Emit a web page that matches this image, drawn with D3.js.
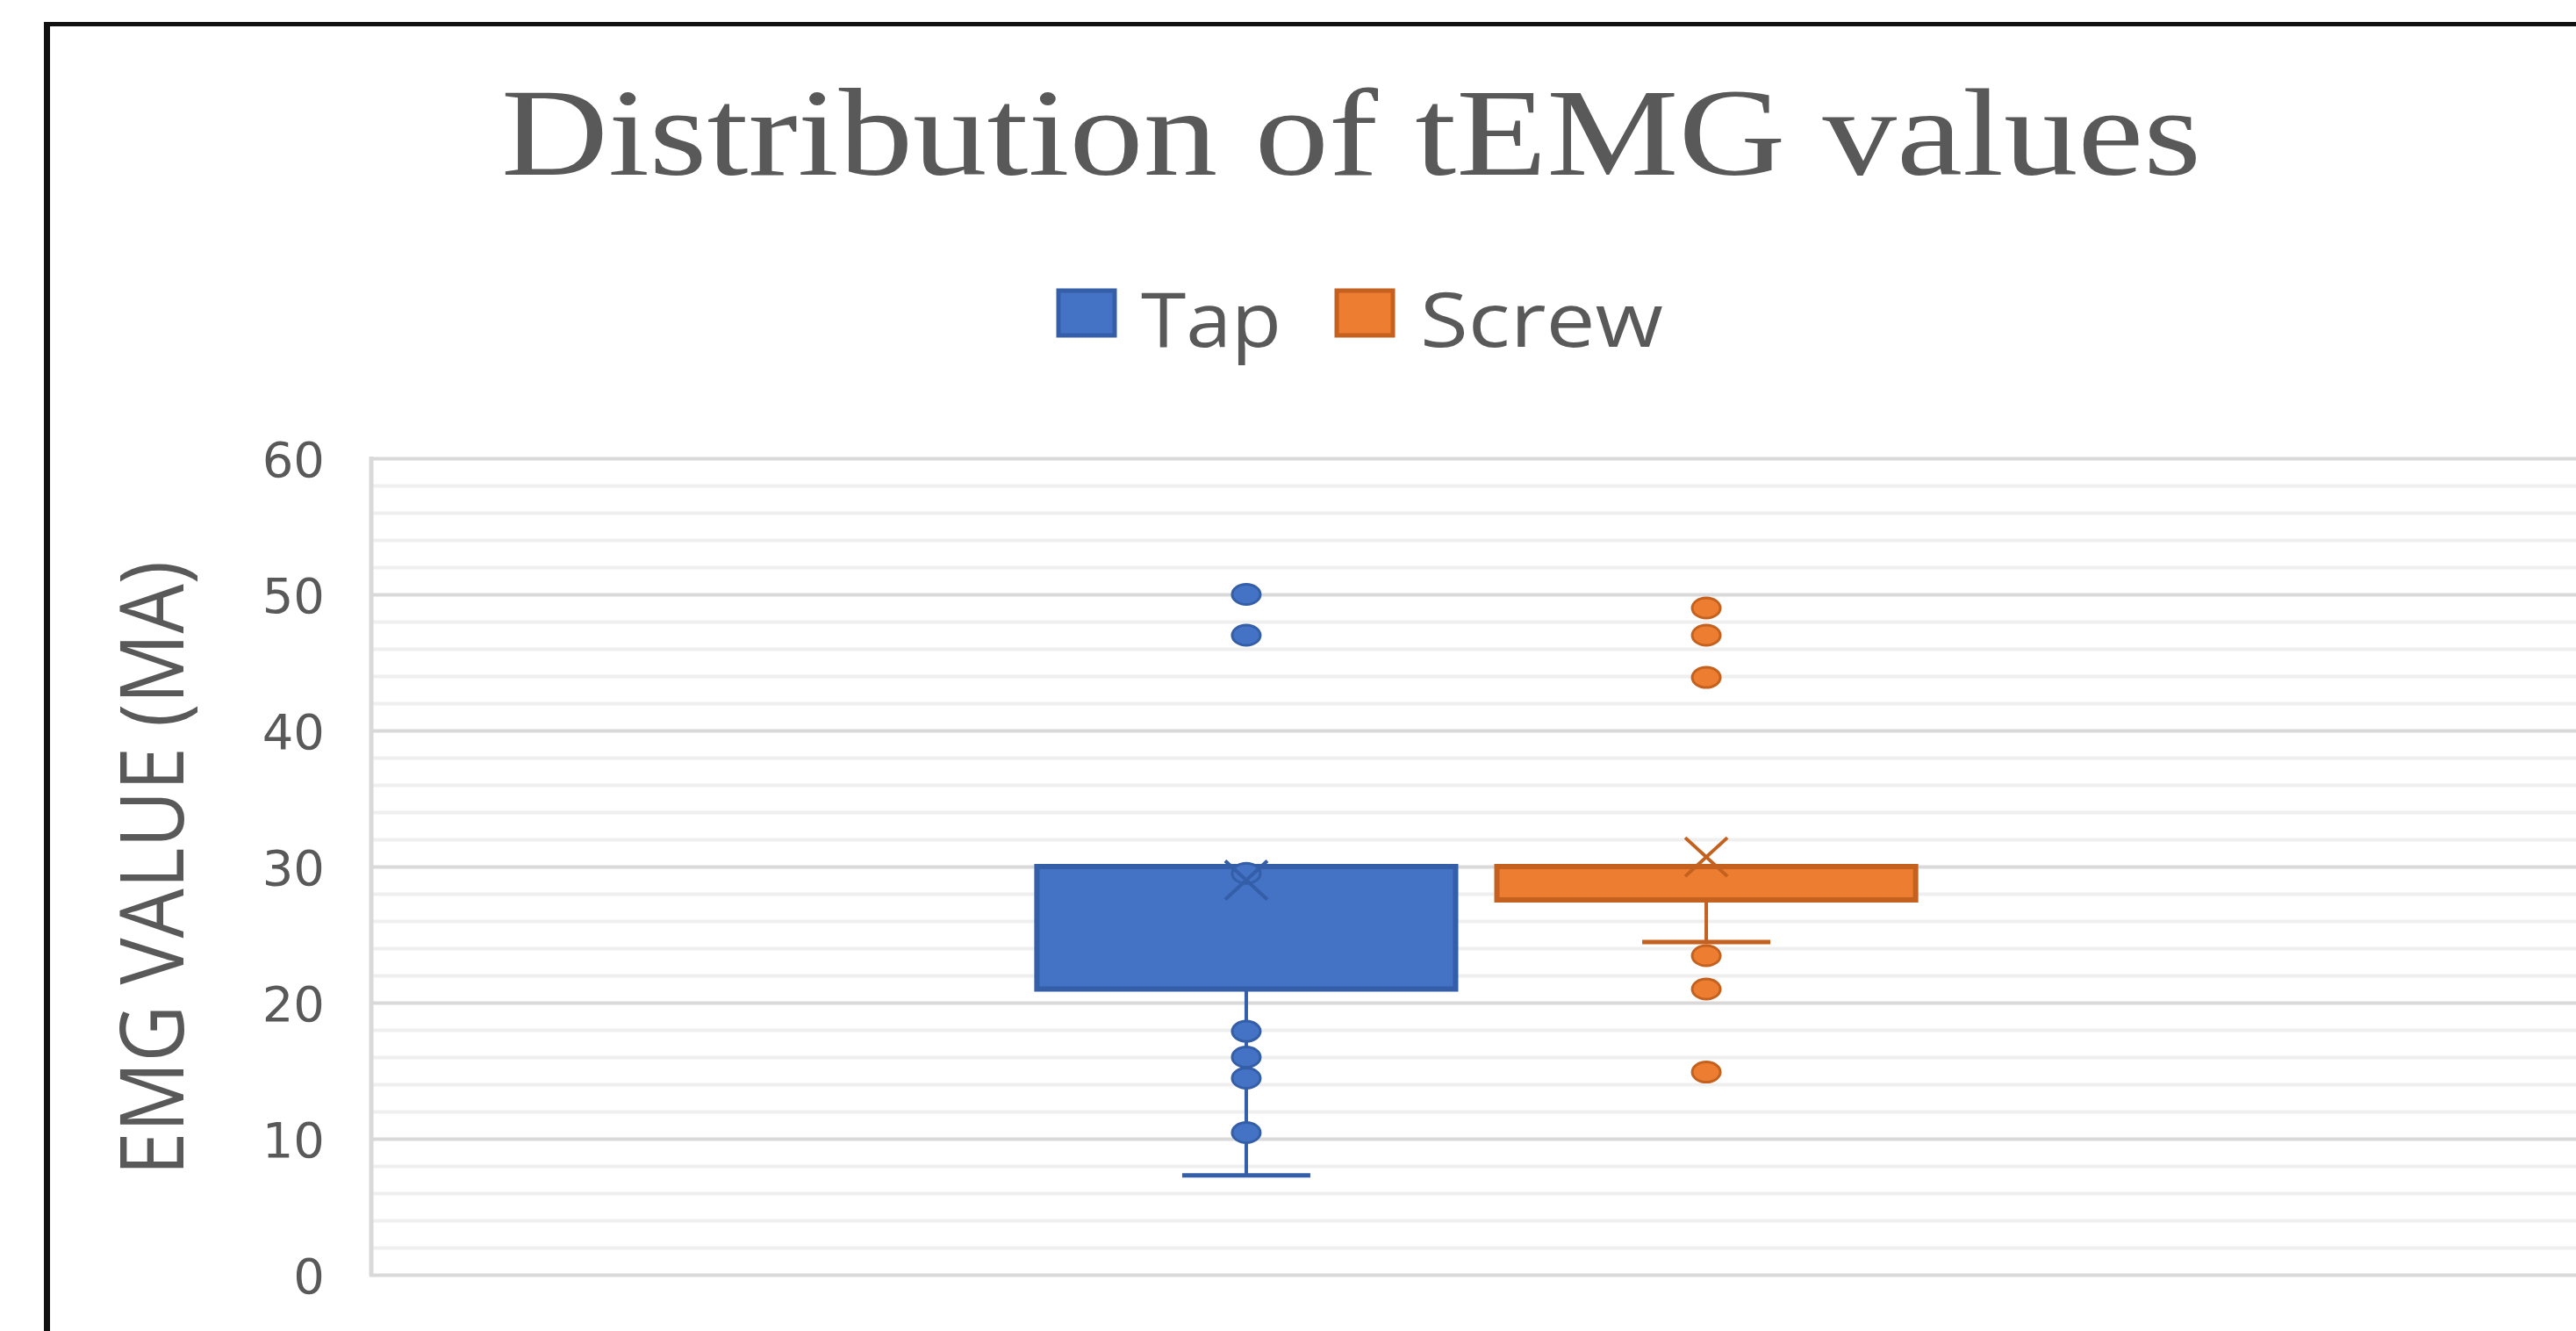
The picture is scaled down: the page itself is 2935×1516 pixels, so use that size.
<!DOCTYPE html>
<html><head><meta charset="utf-8">
<script src="https://cdn.jsdelivr.net/npm/d3@7/dist/d3.min.js"></script>
<style>html,body{margin:0;padding:0;background:#fff;overflow:hidden}</style>
</head><body><svg id="chart" width="2935" height="1516"></svg>
<script>
// ---------- data ----------
const chartTitle = "Distribution of tEMG values";
const yAxisTitle = "EMG VALUE (MA)";
const categories = [""];
const seriesNames = ["Tap", "Screw"];
const q1Values = [21.0, 27.55];
const medianValues = [30, 30];
const q3Values = [30, 30];
const meanValues = [29.0, 30.7];
const whiskerLow = [7.3, 24.45];
const whiskerHigh = [30, 30];
const tapPoints = [50.0, 47.0, 29.5, 17.9, 16.0, 14.45, 10.45];
const screwPoints = [49.0, 47.0, 43.9, 23.45, 21.0, 14.9];
const yTickValues = [0, 10, 20, 30, 40, 50, 60];
const yMinorValues = [2,4,6,8,12,14,16,18,22,24,26,28,32,34,36,38,42,44,46,48,52,54,56,58];

// ---------- styles ----------
const fills = ["#4472C4", "#ED7D31"];
const strokes = ["#345EA8", "#C4611F"];
const textColor = "#595959";

const svg = d3.select("#chart");
const plot = {left: 421, right: 2943, top: 522, bottom: 1452};

const y = d3.scaleLinear().domain([0, 60]).range([plot.bottom, plot.top]);
const xCat = d3.scaleBand().domain(categories).range([plot.left, plot.right]);
const groupFrac = 0.397;
const cx0 = xCat(categories[0]) + xCat.bandwidth() / 2;
const gw = xCat.bandwidth() * groupFrac;
const xSer = d3.scaleBand().domain(seriesNames).range([cx0 - gw / 2, cx0 + gw / 2]).paddingInner(0.0897);

// border
svg.append("line").attr("x1", 53.5).attr("x2", 53.5).attr("y1", 25).attr("y2", 1516)
  .attr("stroke", "#111").attr("stroke-width", 7);
svg.append("line").attr("x1", 50).attr("x2", 2935).attr("y1", 27.5).attr("y2", 27.5)
  .attr("stroke", "#111").attr("stroke-width", 5);

// title
svg.append("text").text(chartTitle)
  .attr("x", 571).attr("y", 199)
  .attr("font-family", "'Liberation Serif', serif").attr("font-size", 142)
  .attr("fill", textColor)
  .attr("textLength", 1937).attr("lengthAdjust", "spacingAndGlyphs");

// legend
const legendItems = [
  {name: seriesNames[0], rx: 1206, tx: 1300, tw: 160},
  {name: seriesNames[1], rx: 1523, tx: 1618, tw: 277}
];
legendItems.forEach((d, i) => {
  svg.append("rect").attr("x", d.rx).attr("y", 331).attr("width", 64).attr("height", 51)
    .attr("fill", fills[i]).attr("stroke", strokes[i]).attr("stroke-width", 5);
  svg.append("text").text(d.name).attr("x", d.tx).attr("y", 395)
    .attr("font-family", "'Open Sans', sans-serif").attr("font-size", 86)
    .attr("fill", textColor)
    .attr("textLength", d.tw).attr("lengthAdjust", "spacingAndGlyphs");
});

// minor gridlines
svg.append("g").attr("transform", `translate(${plot.left},0)`)
  .call(d3.axisLeft(y).tickValues(yMinorValues).tickSize(-(plot.right - plot.left)).tickFormat(""))
  .call(g => g.select(".domain").remove())
  .call(g => g.selectAll(".tick line").attr("stroke", "#EFEFEF").attr("stroke-width", 4));

// major gridlines
svg.append("g").attr("transform", `translate(${plot.left},0)`)
  .call(d3.axisLeft(y).tickValues(yTickValues).tickSize(-(plot.right - plot.left)).tickFormat(""))
  .call(g => g.select(".domain").remove())
  .call(g => g.selectAll(".tick line").attr("stroke", "#D9D9D9").attr("stroke-width", 4));

// vertical axis line
svg.append("line").attr("x1", plot.left + 2).attr("x2", plot.left + 2)
  .attr("y1", plot.top - 2).attr("y2", plot.bottom + 2)
  .attr("stroke", "#D9D9D9").attr("stroke-width", 5);

// tick labels
svg.append("g").attr("transform", `translate(370,3)`)
  .call(d3.axisLeft(y).tickValues(yTickValues).tickSize(0).tickPadding(0).tickFormat(d3.format("d")))
  .call(g => g.select(".domain").remove())
  .call(g => g.selectAll(".tick text")
    .attr("font-family", "'DejaVu Sans', sans-serif").attr("font-size", 56)
    .attr("fill", textColor));

// y axis title
svg.append("text").text(yAxisTitle)
  .attr("transform", "translate(209,989) rotate(-90)")
  .attr("text-anchor", "middle")
  .attr("font-family", "'Open Sans', sans-serif").attr("font-size", 100)
  .attr("fill", textColor)
  .attr("textLength", 700).attr("lengthAdjust", "spacingAndGlyphs");

// boxes
const allPoints = [tapPoints, screwPoints];
seriesNames.forEach((s, i) => {
  const bx = xSer(s), bw = xSer.bandwidth(), c = bx + bw / 2;
  const g = svg.append("g");
  const capW = 146;
  // lower whisker
  g.append("line").attr("x1", c).attr("x2", c).attr("y1", y(q1Values[i])).attr("y2", y(whiskerLow[i]))
    .attr("stroke", strokes[i]).attr("stroke-width", 4);
  g.append("line").attr("x1", c - capW / 2).attr("x2", c + capW / 2)
    .attr("y1", y(whiskerLow[i])).attr("y2", y(whiskerLow[i]))
    .attr("stroke", strokes[i]).attr("stroke-width", 5);
  // upper whisker
  if (whiskerHigh[i] > q3Values[i]) {
    g.append("line").attr("x1", c).attr("x2", c).attr("y1", y(q3Values[i])).attr("y2", y(whiskerHigh[i]))
      .attr("stroke", strokes[i]).attr("stroke-width", 4);
    g.append("line").attr("x1", c - capW / 2).attr("x2", c + capW / 2)
      .attr("y1", y(whiskerHigh[i])).attr("y2", y(whiskerHigh[i]))
      .attr("stroke", strokes[i]).attr("stroke-width", 5);
  }
  // box
  g.append("rect").attr("x", bx).attr("width", bw)
    .attr("y", y(q3Values[i])).attr("height", y(q1Values[i]) - y(q3Values[i]))
    .attr("fill", fills[i]).attr("stroke", strokes[i]).attr("stroke-width", 6);
  // median
  g.append("line").attr("x1", bx).attr("x2", bx + bw)
    .attr("y1", y(medianValues[i])).attr("y2", y(medianValues[i]))
    .attr("stroke", strokes[i]).attr("stroke-width", 6);
  // points
  g.selectAll("ellipse").data(allPoints[i]).join("ellipse")
    .attr("cx", c).attr("cy", d => y(d)).attr("rx", 16).attr("ry", 11.5)
    .attr("fill", fills[i]).attr("stroke", strokes[i]).attr("stroke-width", 3);
  // mean marker
  const my = y(meanValues[i]), hx = 24, hy = 22;
  g.append("path")
    .attr("d", `M${c - hx},${my - hy}L${c + hx},${my + hy}M${c + hx},${my - hy}L${c - hx},${my + hy}`)
    .attr("stroke", strokes[i]).attr("stroke-width", 4).attr("fill", "none");
});
</script></body></html>
